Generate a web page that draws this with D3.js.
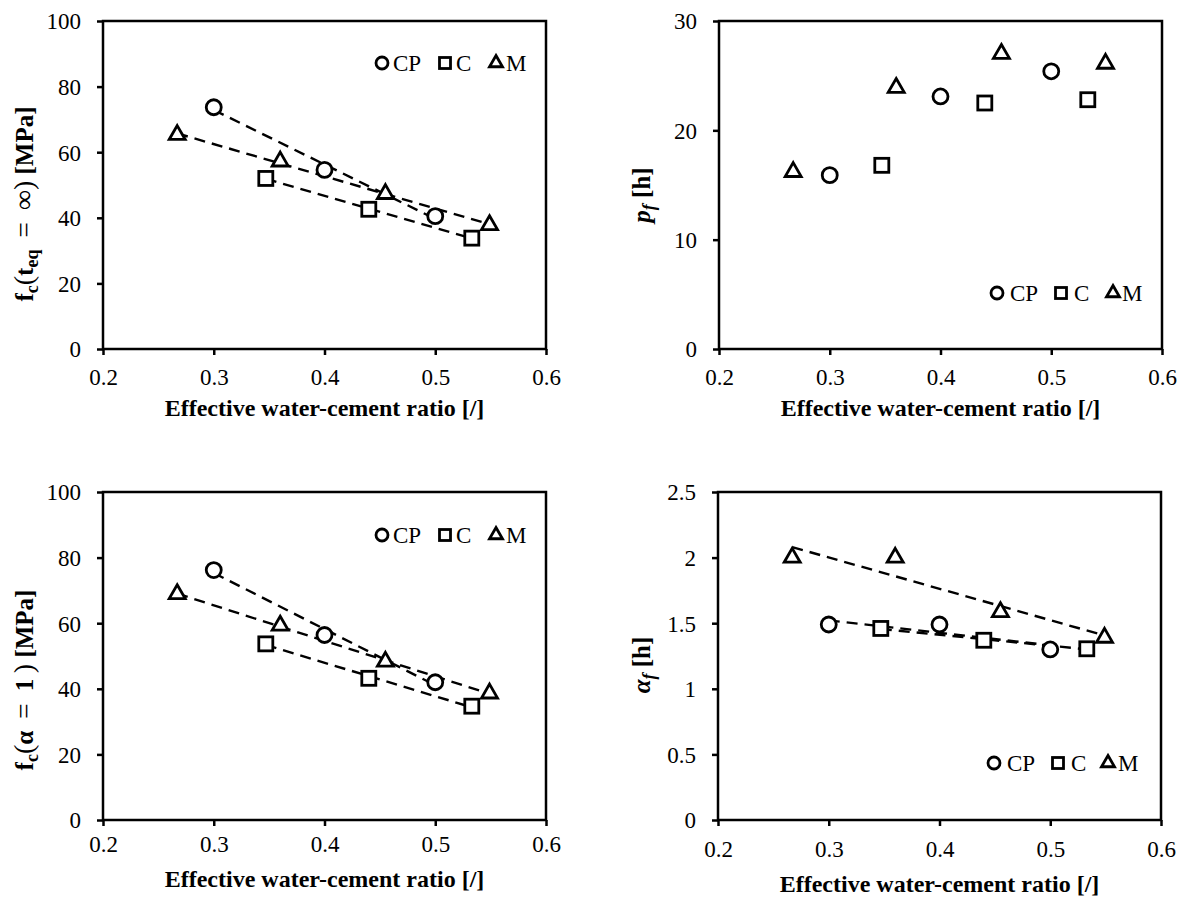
<!DOCTYPE html>
<html>
<head>
<meta charset="utf-8">
<script src="https://cdn.jsdelivr.net/npm/d3@7/dist/d3.min.js"></script>
<style>
  html, body { margin: 0; padding: 0; background: #fff; }
  svg { display: block; }
  text { font-family: "Liberation Serif", "Times New Roman", serif; fill: #000; }
</style>
</head>
<body>
<svg id="chart" width="1186" height="898"></svg>
<script>
// ---------- data ----------
const series = ["CP", "C", "M"];
const xTicks = [0.2, 0.3, 0.4, 0.5, 0.6];

const wcCP = [0.300, 0.400, 0.500];
const wcC  = [0.347, 0.440, 0.533];
const wcM  = [0.267, 0.360, 0.455, 0.549];

// f_c(t_eq = inf) [MPa]
const fcInfCP = [73.7, 54.6, 40.5];
const fcInfC  = [52.0, 42.6, 33.8];
const fcInfM  = [65.3, 57.2, 47.3, 37.8];

// p_f [h]
const pfCP = [15.9, 23.1, 25.4];
const pfC  = [16.8, 22.5, 22.8];
const pfM  = [16.2, 23.9, 27.0, 26.1];

// f_c(alpha = 1) [MPa]
const fc1CP = [76.2, 56.4, 42.0];
const fc1C  = [53.7, 43.2, 34.7];
const fc1M  = [68.9, 59.3, 48.3, 38.6];

// a_f [h]
const afCP = [1.49, 1.49, 1.300];
const afC  = [1.46, 1.37, 1.305];
const afM  = [2.00, 2.00, 1.585, 1.390];

const yTicksMPa = [0, 20, 40, 60, 80, 100];
const yTicksPf  = [0, 10, 20, 30];
const yTicksAf  = [0, 0.5, 1, 1.5, 2, 2.5];

// ---------- layout ----------
const panels = [
  { x0: 103, x1: 546, y0: 21, y1: 349, yMax: 100, yTicks: yTicksMPa,
    data: { CP: fcInfCP, C: fcInfC, M: fcInfM }, trend: true,
    legend: { y: 63, cx: [382, 445, 496], tx: [393, 456, 506] },
    xTitleY: 416, xTickDy: 36,
    yTitle: { x: 33, y: 204, kind: "fcinf" } },
  { x0: 719, x1: 1162, y0: 21, y1: 349, yMax: 30, yTicks: yTicksPf,
    data: { CP: pfCP, C: pfC, M: pfM }, trend: false,
    legend: { y: 293, cx: [997, 1061, 1113], tx: [1010, 1074, 1122] },
    xTitleY: 416, xTickDy: 36,
    yTitle: { x: 650, y: 195, kind: "pf" } },
  { x0: 103, x1: 546, y0: 492, y1: 820, yMax: 100, yTicks: yTicksMPa,
    data: { CP: fc1CP, C: fc1C, M: fc1M }, trend: true,
    legend: { y: 535, cx: [382, 445, 496], tx: [393, 456, 506] },
    xTitleY: 887, xTickDy: 32,
    yTitle: { x: 33, y: 680, kind: "fc1" } },
  { x0: 718, x1: 1161, y0: 492, y1: 820, yMax: 2.5, yTicks: yTicksAf,
    data: { CP: afCP, C: afC, M: afM }, trend: true,
    legend: { y: 763, cx: [994, 1058, 1108], tx: [1007, 1071, 1118] },
    xTitleY: 892, xTickDy: 37,
    yTitle: { x: 650, y: 665, kind: "af" } }
];
const wc = { CP: wcCP, C: wcC, M: wcM };

const svg = d3.select("#chart");

function drawMarker(g, kind, cx, cy, size, sw) {
  if (kind === "CP") {
    g.append("circle").attr("cx", cx).attr("cy", cy).attr("r", size / 2)
      .attr("fill", "#fff").attr("stroke", "#000").attr("stroke-width", sw);
  } else if (kind === "C") {
    const s = size - 1;
    g.append("rect").attr("x", cx - s / 2).attr("y", cy - s / 2)
      .attr("width", s).attr("height", s)
      .attr("fill", "#fff").attr("stroke", "#000").attr("stroke-width", sw);
  } else {
    const s = size + 1;
    g.append("path")
      .attr("d", d3.symbol().type(d3.symbolTriangle).size(s * s * Math.sqrt(3) / 4)())
      .attr("transform", `translate(${cx},${cy})`)
      .attr("fill", "#fff").attr("stroke", "#000").attr("stroke-width", sw)
      .attr("stroke-linejoin", "miter");
  }
}

function linFit(xs, ys) {
  const n = xs.length;
  const mx = d3.mean(xs), my = d3.mean(ys);
  let sxy = 0, sxx = 0;
  for (let i = 0; i < n; i++) { sxy += (xs[i] - mx) * (ys[i] - my); sxx += (xs[i] - mx) ** 2; }
  const b = sxy / sxx;
  return x => my + b * (x - mx);
}

function yTitle(g, t) {
  const text = g.append("text")
    .attr("transform", `translate(${t.x},${t.y}) rotate(-90)`)
    .attr("text-anchor", "middle")
    .attr("font-size", 25);
  const add = (s, o = {}) => {
    const ts = text.append("tspan").text(s)
      .attr("font-weight", o.w || "bold");
    if (o.style) ts.attr("font-style", o.style);
    if (o.size) ts.attr("font-size", o.size);
    if (o.dy) ts.attr("dy", o.dy);
    return ts;
  };
  const TH = "\u2009";
  if (t.kind === "fcinf") {
    add("f"); add("c", { size: 18, dy: 5 }); add("(", { w: "normal", size: 28, dy: -5 });
    add("t"); add("eq", { size: 18, dy: 5 });
    add(" " + TH + "=" + TH + " ", { w: "normal", size: 27, dy: -5 });
    add("∞", { w: "normal", size: 28 }); add(")", { w: "normal", size: 28 });
    add(" [MPa]");
  } else if (t.kind === "fc1") {
    add("f"); add("c", { size: 18, dy: 5 }); add("(", { w: "normal", size: 28, dy: -5 });
    add("α"); add(" " + TH + "=" + TH + " ", { w: "normal", size: 27 }); add("1");
    add(TH + ")", { w: "normal", size: 28 });
    add(" [MPa]");
  } else if (t.kind === "pf") {
    add("p", { style: "italic" }); add("f", { style: "italic", size: 18, dy: 5 });
    add(" [h]", { dy: -5 });
  } else {
    add("α", { style: "italic" }); add("f", { style: "italic", size: 18, dy: 5 });
    add(" [h]", { dy: -5 });
  }
}

panels.forEach(p => {
  const g = svg.append("g");
  const x = d3.scaleLinear().domain([0.2, 0.6]).range([p.x0, p.x1]);
  const y = d3.scaleLinear().domain([0, p.yMax]).range([p.y1, p.y0]);

  // frame
  g.append("rect").attr("x", p.x0).attr("y", p.y0)
    .attr("width", p.x1 - p.x0).attr("height", p.y1 - p.y0)
    .attr("fill", "none").attr("stroke", "#000").attr("stroke-width", 2.5);

  // x axis
  const xa = g.append("g").attr("transform", `translate(0,${p.y1})`)
    .call(d3.axisBottom(x).tickValues(xTicks).tickFormat(d3.format(".1f"))
      .tickSize(6).tickSizeOuter(0));
  xa.select(".domain").remove();
  xa.selectAll(".tick line").attr("stroke", "#000").attr("stroke-width", 2.5);
  xa.selectAll(".tick text").attr("font-size", 23)
    .attr("font-family", "Liberation Serif").attr("y", p.xTickDy).attr("dy", 0);

  // y axis
  const ya = g.append("g").attr("transform", `translate(${p.x0},0)`)
    .call(d3.axisLeft(y).tickValues(p.yTicks).tickFormat(d => String(d))
      .tickSize(6).tickSizeOuter(0));
  ya.select(".domain").remove();
  ya.selectAll(".tick line").attr("stroke", "#000").attr("stroke-width", 2.5);
  ya.selectAll(".tick text").attr("font-size", 23)
    .attr("font-family", "Liberation Serif").attr("x", -22).attr("dy", "0.34em");

  // trend lines
  if (p.trend) {
    series.forEach(s => {
      const f = linFit(wc[s], p.data[s]);
      const xmin = d3.min(wc[s]), xmax = d3.max(wc[s]);
      g.append("line")
        .attr("x1", x(xmin)).attr("y1", y(f(xmin)))
        .attr("x2", x(xmax)).attr("y2", y(f(xmax)))
        .attr("stroke", "#000").attr("stroke-width", 2.4)
        .attr("stroke-dasharray", "11,7");
    });
  }

  // markers
  series.forEach(s => {
    p.data[s].forEach((v, i) => drawMarker(g, s, x(wc[s][i]), y(v), 15, 2.8));
  });

  // legend
  series.forEach((s, i) => {
    drawMarker(g, s, p.legend.cx[i], p.legend.y, 12, 2.8);
    g.append("text").attr("x", p.legend.tx[i]).attr("y", p.legend.y + 8)
      .attr("font-size", 23).text(s);
  });

  // x title
  g.append("text").attr("x", (p.x0 + p.x1) / 2).attr("y", p.xTitleY)
    .attr("text-anchor", "middle").attr("font-size", 24).attr("font-weight", "bold")
    .text("Effective water-cement ratio [/]");

  yTitle(g, p.yTitle);
});
</script>
</body>
</html>
